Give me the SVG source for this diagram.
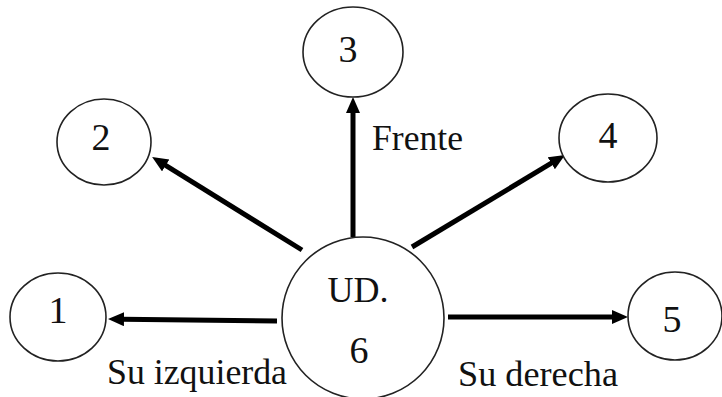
<svg xmlns="http://www.w3.org/2000/svg" width="722" height="397" viewBox="0 0 722 397">
<style>
.node ellipse{fill:#fff;stroke:#222;stroke-width:1.6}
.lbl{font-family:"Liberation Serif","Times New Roman",serif;font-size:36px;fill:#111}
.num{font-family:"Liberation Serif","Times New Roman",serif;font-size:38px;fill:#111;text-anchor:middle}
.edge{stroke:#000;stroke-width:5;fill:none;marker-end:url(#ah)}
</style>
<defs>
<marker id="ah" markerUnits="userSpaceOnUse" markerWidth="18" markerHeight="16" refX="2" refY="7" orient="auto">
<path d="M0,0 L16,7 L0,14 z" fill="#000"/>
</marker>
</defs>
<rect width="722" height="397" fill="#fff"/>
<g id="connectors">
<line class="edge" x1="277" y1="321" x2="122" y2="319.2"/>
<line class="edge" x1="448" y1="317" x2="614" y2="317"/>
<line class="edge" x1="353" y1="237" x2="353" y2="111"/>
<line class="edge" x1="302" y1="250" x2="164" y2="164.4"/>
<line class="edge" x1="412" y1="247" x2="553" y2="162.2"/>
</g>
<g id="node6" class="node">
<ellipse cx="363" cy="318" rx="81" ry="81"/>
<text class="lbl" x="358" y="302" text-anchor="middle">UD.</text>
<text class="num" x="359" y="363">6</text>
</g>
<g id="node1" class="node">
<ellipse cx="58" cy="317" rx="48" ry="44"/>
<text class="num" x="58" y="323">1</text>
</g>
<g id="node2" class="node">
<ellipse cx="104" cy="142" rx="47" ry="43"/>
<text class="num" x="101" y="150">2</text>
</g>
<g id="node3" class="node">
<ellipse cx="353" cy="52" rx="50" ry="45"/>
<text class="num" x="348" y="62">3</text>
</g>
<g id="node4" class="node">
<ellipse cx="608" cy="138" rx="49" ry="44"/>
<text class="num" x="608" y="148">4</text>
</g>
<g id="node5" class="node">
<ellipse cx="675" cy="316" rx="47" ry="44"/>
<text class="num" x="672" y="332">5</text>
</g>
<g id="labels">
<text class="lbl" x="372" y="150" textLength="91" lengthAdjust="spacingAndGlyphs">Frente</text>
<text class="lbl" x="107" y="384" textLength="180" lengthAdjust="spacingAndGlyphs">Su izquierda</text>
<text class="lbl" x="458" y="386" textLength="160" lengthAdjust="spacingAndGlyphs">Su derecha</text>
</g>
</svg>
